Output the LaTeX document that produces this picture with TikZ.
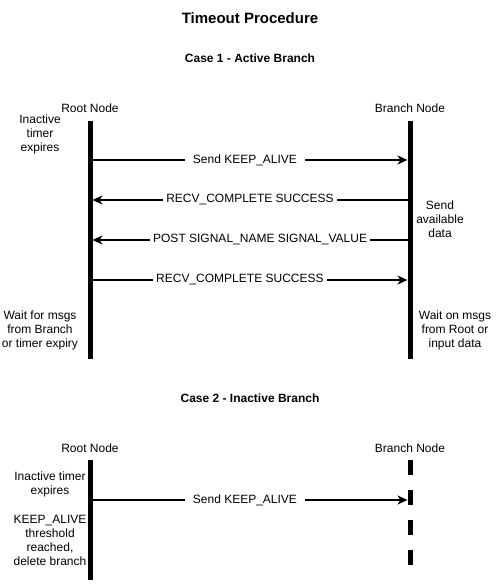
\documentclass[tikz,border=0pt]{standalone}
\usepackage{fontspec}
\setmainfont{Liberation Sans}
\usetikzlibrary{arrows.meta}

\begin{document}
\begin{tikzpicture}[x=1pt,y=-1pt,
  lifeline/.style={line width=5pt},
  msg/.style={line width=1.5pt,-{Stealth[length=10pt,width=9pt,inset=3pt]}},
  msglabel/.style={fill=white,inner xsep=3pt,inner ysep=1pt,font=\fontsize{12}{14}\selectfont},
  note/.style={align=center,font=\fontsize{12}{14}\selectfont,inner sep=0pt},
  heading/.style={font=\fontsize{12}{14}\selectfont\bfseries}]
\useasboundingbox (0,0) rectangle (501,585);

\node (title) at (250,18) [font=\fontsize{15}{17}\selectfont\bfseries]{Timeout Procedure};

% Case 1
\node (case1) at (250,58) [heading]{Case 1 - Active Branch};
\node (root1) at (90,108) [note]{Root Node};
\node (branch1) at (410,108) [note]{Branch Node};

\coordinate (r1top) at (90,121);
\coordinate (r1bot) at (90,359);
\coordinate (b1top) at (410,121);
\coordinate (b1bot) at (410,359);
\draw [lifeline] (r1top) -- (r1bot);
\draw [lifeline] (b1top) -- (b1bot);

\node (r1note) at (40,134) [note]{Inactive\\timer\\expires};
\node (b1note) at (440,219) [note]{Send\\available\\data};
\node (r1wait) at (40,330) [note]{Wait for msgs\\from Branch\\or timer expiry};
\node (b1wait) at (455,330) [note]{Wait on msgs\\from Root or\\input data};

\coordinate (ra) at (92.5,160);  \coordinate (ba) at (407.5,160);
\coordinate (rb) at (92.5,200);  \coordinate (bb) at (407.5,200);
\coordinate (rc) at (92.5,240);  \coordinate (bc) at (407.5,240);
\coordinate (rd) at (92.5,280);  \coordinate (bd) at (407.5,280);

\draw [msg] (ra) -- node[msglabel,pos=0.484,inner xsep=8pt]{Send KEEP\_ALIVE} (ba);
\draw [msg] (bb) -- node[msglabel,pos=0.5]{RECV\_COMPLETE SUCCESS} (rb);
\draw [msg] (bc) -- node[msglabel,pos=0.468]{POST SIGNAL\_NAME SIGNAL\_VALUE} (rc);
\draw [msg] (rd) -- node[msglabel,pos=0.468]{RECV\_COMPLETE SUCCESS} (bd);

% Case 2
\node (case2) at (250,398) [heading]{Case 2 - Inactive Branch};
\node (root2) at (90,448) [note]{Root Node};
\node (branch2) at (410,448) [note]{Branch Node};

\coordinate (r2top) at (90,460);
\coordinate (r2bot) at (90,580);
\coordinate (b2top) at (410,460);
\coordinate (b2bot) at (410,566);
\draw [lifeline] (r2top) -- (r2bot);
\draw [lifeline,dash pattern=on 15pt off 15pt] (b2top) -- (b2bot);

\node (r2note) at (50,484) [note]{Inactive timer\\expires};
\node (r2del) at (50,540) [note]{KEEP\_ALIVE\\threshold\\reached,\\delete branch};

\coordinate (re) at (92.5,500);  \coordinate (be) at (407.5,500);
\draw [msg] (re) -- node[msglabel,pos=0.484,inner xsep=8pt]{Send KEEP\_ALIVE} (be);

\end{tikzpicture}
\end{document}
